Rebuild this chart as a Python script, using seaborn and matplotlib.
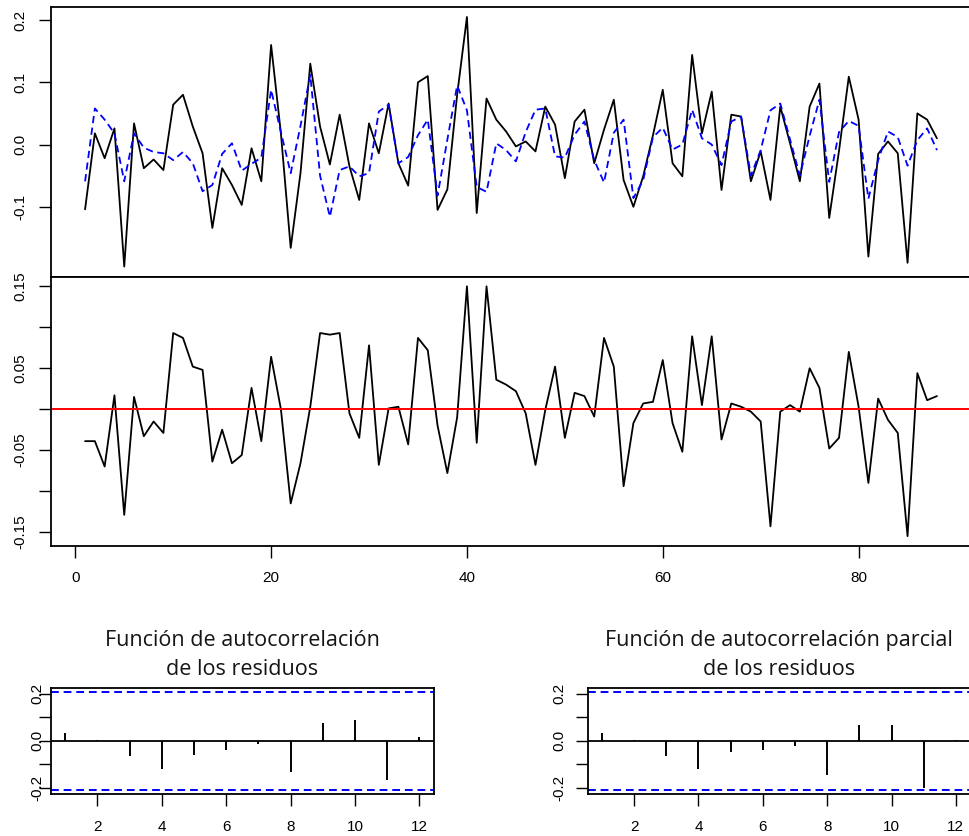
import matplotlib
matplotlib.use("Agg")
import matplotlib.pyplot as plt
import numpy as np
import pandas as pd
import seaborn as sns

# ---------------- data ----------------
t = list(range(1, 89))
observed = [-0.104, 0.018, -0.022, 0.026, -0.196, 0.034, -0.038, -0.024, -0.041, 0.064,
            0.080, 0.029, -0.014, -0.134, -0.038, -0.065, -0.097, -0.006, -0.059, 0.160,
            0.018, -0.166, -0.046, 0.130, 0.029, -0.032, 0.048, -0.035, -0.089, 0.034,
            -0.014, 0.066, -0.030, -0.066, 0.100, 0.110, -0.105, -0.072, 0.080, 0.205,
            -0.110, 0.074, 0.040, 0.021, -0.003, 0.005, -0.011, 0.061, 0.032, -0.054,
            0.037, 0.056, -0.030, 0.024, 0.072, -0.057, -0.100, -0.051, 0.015, 0.088,
            -0.030, -0.051, 0.144, 0.018, 0.085, -0.073, 0.048, 0.045, -0.059, -0.011,
            -0.089, 0.061, 0.002, -0.059, 0.061, 0.098, -0.118, -0.010, 0.109, 0.040,
            -0.180, -0.015, 0.005, -0.014, -0.190, 0.050, 0.040, 0.010]
fitted = [-0.059, 0.058, 0.040, 0.018, -0.059, 0.018, -0.005, -0.012, -0.014, -0.025,
          -0.012, -0.030, -0.075, -0.065, -0.015, 0.002, -0.042, -0.031, -0.021, 0.088,
          0.020, -0.046, 0.030, 0.112, -0.050, -0.116, -0.041, -0.035, -0.051, -0.046,
          0.053, 0.064, -0.030, -0.020, 0.015, 0.040, -0.082, 0.008, 0.095, 0.055,
          -0.068, -0.076, 0.002, -0.009, -0.027, 0.020, 0.056, 0.058, -0.019, -0.021,
          0.016, 0.037, -0.025, -0.061, 0.019, 0.040, -0.086, -0.057, 0.012, 0.027,
          -0.008, 0.000, 0.056, 0.010, 0.000, -0.033, 0.037, 0.045, -0.050, -0.009,
          0.055, 0.066, 0.008, -0.050, 0.014, 0.072, -0.060, 0.020, 0.038, 0.030,
          -0.087, -0.025, 0.021, 0.012, -0.034, 0.007, 0.026, -0.009]
residuals = [-0.039, -0.039, -0.070, 0.017, -0.129, 0.015, -0.033, -0.015, -0.029, 0.093,
             0.087, 0.052, 0.048, -0.064, -0.025, -0.066, -0.056, 0.026, -0.039, 0.064,
             0.000, -0.115, -0.066, 0.003, 0.093, 0.091, 0.093, -0.005, -0.035, 0.078,
             -0.068, 0.001, 0.003, -0.043, 0.087, 0.072, -0.020, -0.078, -0.010, 0.150,
             -0.041, 0.150, 0.036, 0.030, 0.022, -0.005, -0.068, -0.001, 0.052, -0.035,
             0.020, 0.016, -0.009, 0.087, 0.052, -0.094, -0.017, 0.007, 0.009, 0.060,
             -0.017, -0.052, 0.089, 0.005, 0.089, -0.037, 0.007, 0.003, -0.003, -0.015,
             -0.143, -0.003, 0.005, -0.003, 0.050, 0.026, -0.048, -0.035, 0.070, 0.003,
             -0.090, 0.013, -0.013, -0.029, -0.155, 0.044, 0.011, 0.016]
lags = list(range(1, 13))
acf_vals = [0.032, 0.001, -0.066, -0.122, -0.059, -0.041, -0.014, -0.132, 0.077, 0.087, -0.167, 0.015]
pacf_vals = [0.032, 0.001, -0.066, -0.122, -0.049, -0.041, -0.021, -0.147, 0.067, 0.067, -0.200, 0.001]
conf_bound = 0.208

series_xticks = [0, 20, 40, 60, 80]
top_yticks = [-0.1, 0.0, 0.1, 0.2]
top_ylabels = ["-0.1", "0.0", "0.1", "0.2"]
mid_yticks = [-0.15, -0.10, -0.05, 0.0, 0.05, 0.10, 0.15]
mid_ylabels = ["-0.15", "", "-0.05", "", "0.05", "", "0.15"]
acf_yticks = [-0.2, -0.1, 0.0, 0.1, 0.2]
acf_ylabels = ["-0.2", "", "0.0", "", "0.2"]
acf_xticks = [2, 4, 6, 8, 10, 12]
title_acf = "Función de autocorrelación\nde los residuos"
title_pacf = "Función de autocorrelación parcial\nde los residuos"

df = pd.DataFrame({"t": t, "observed": observed, "fitted": fitted, "residuals": residuals})

# ---------------- style ----------------
sns.set_style("ticks")
plt.rcParams["font.family"] = ["Liberation Sans", "DejaVu Sans"]
plt.rcParams["axes.linewidth"] = 1.3

W, H = 969, 836
fig = plt.figure(figsize=(W / 100, H / 100), dpi=100)


def ax_px(left, top, right, bottom):
    return fig.add_axes([left / W, 1 - bottom / H, (right - left) / W, (bottom - top) / H])


ax1 = ax_px(51, 7, 971, 276.5)
ax2 = ax_px(51, 276.5, 971, 546)
ax3 = ax_px(51, 687.6, 433.5, 793.8)
ax4 = ax_px(587.8, 687.6, 970, 793.8)

TL = 8.6  # tick length in points (~12 px)
dash = (0, (4, 2.5))

# ---- top panel: observed vs fitted ----
sns.lineplot(data=df, x="t", y="observed", ax=ax1, color="black", lw=1.3)
sns.lineplot(data=df, x="t", y="fitted", ax=ax1, color="#0000FF", lw=1.3, linestyle=dash)
ax1.set_xlim(-2.48, 91.48)
ax1.set_ylim(-0.212, 0.221)
ax1.set_xticks([])
ax1.set_yticks(top_yticks)
ax1.set_yticklabels(top_ylabels)

# ---- middle panel: residuals ----
sns.lineplot(data=df, x="t", y="residuals", ax=ax2, color="black", lw=1.3)
ax2.axhline(0, color="#FF0000", lw=1.4)
ax2.set_xlim(-2.48, 91.48)
ax2.set_ylim(-0.167, 0.162)
ax2.set_xticks(series_xticks)
ax2.set_xticklabels([str(v) for v in series_xticks])
ax2.set_yticks(mid_yticks)
ax2.set_yticklabels(mid_ylabels)

# ---- bottom panels: ACF / PACF ----
for ax, vals, title in [(ax3, acf_vals, title_acf), (ax4, pacf_vals, title_pacf)]:
    ax.vlines(lags, 0, vals, color="black", lw=1.4)
    ax.axhline(0, color="black", lw=1.3)
    ax.axhline(conf_bound, color="#0000FF", lw=1.4, linestyle=dash)
    ax.axhline(-conf_bound, color="#0000FF", lw=1.4, linestyle=dash)
    ax.set_xlim(0.56, 12.44)
    ax.set_ylim(-0.225, 0.225)
    ax.set_xticks(acf_xticks)
    ax.set_xticklabels([str(v) for v in acf_xticks])
    ax.set_yticks(acf_yticks)
    ax.set_yticklabels(acf_ylabels)
    ax.set_title(title, family=["Open Sans", "DejaVu Sans"], fontsize=15.5, pad=9,
                 linespacing=1.5, color="#151515")

for ax in (ax1, ax2, ax3, ax4):
    ax.set_xlabel("")
    ax.set_ylabel("")
    for s in ax.spines.values():
        s.set_visible(True)
        s.set_color("black")
        s.set_linewidth(1.3)
    ax.tick_params(direction="out", length=TL, width=1.0, colors="black", labelsize=11)
    ax.tick_params(axis="y", pad=8.6)
    ax.set_facecolor("white")
    ax.grid(False)

ax2.tick_params(axis="x", pad=9.5)
ax3.tick_params(axis="x", pad=10.5)
ax4.tick_params(axis="x", pad=10.5)
ax3.tick_params(axis="y", pad=-3.5)
ax4.tick_params(axis="y", pad=7.0)

for ax in (ax1, ax2, ax3, ax4):
    for lab in ax.get_yticklabels():
        lab.set_rotation(90)
        lab.set_va("center")

fig.savefig("out.png", dpi=100, facecolor="white")
